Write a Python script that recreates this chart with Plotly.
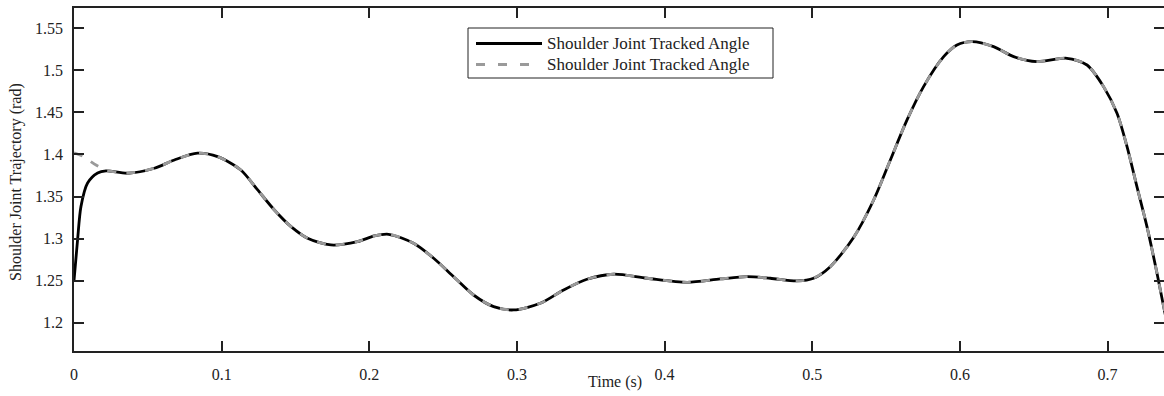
import plotly.graph_objects as go

# Shared trajectory after the initial transient (time in s, angle in rad)
t_common = [0.0363, 0.0544, 0.068, 0.0837, 0.0973, 0.113, 0.1244, 0.1357, 0.147,
            0.1582, 0.174, 0.192, 0.2034, 0.2131, 0.23, 0.2436, 0.2571, 0.2706,
            0.2842, 0.2977, 0.3158, 0.3316, 0.3474, 0.3655, 0.3881, 0.4152,
            0.4377, 0.4558, 0.4716, 0.4897, 0.5009, 0.5122, 0.528, 0.5416,
            0.5529, 0.5642, 0.5754, 0.589, 0.598, 0.6082, 0.6228, 0.6364,
            0.6522, 0.6725, 0.6861, 0.6973, 0.7064, 0.7132, 0.7199, 0.7267,
            0.7335, 0.738, 0.745]
angle_common = [1.3777, 1.3836, 1.3935, 1.4015, 1.3974, 1.3816, 1.3578, 1.334, 1.3142,
                1.3004, 1.2924, 1.2963, 1.3031, 1.3051, 1.2944, 1.2766, 1.2547, 1.2329,
                1.219, 1.2151, 1.223, 1.2389, 1.2516, 1.2576, 1.2528, 1.248,
                1.252, 1.2547, 1.2528, 1.2496, 1.2528, 1.2666, 1.3012, 1.3459,
                1.3935, 1.4411, 1.4807, 1.5163, 1.5302, 1.5342, 1.5282, 1.5163,
                1.5104, 1.5144, 1.5064, 1.4807, 1.449, 1.4093, 1.3617, 1.3142,
                1.2587, 1.219, 1.16]

# Tracked angle start-up (solid black)
t_tracked_start = [0.0, 0.0024, 0.0047, 0.0092, 0.016, 0.0217]
angle_tracked_start = [1.25, 1.298, 1.338, 1.366, 1.378, 1.3805]

# Reference angle start-up (dashed gray)
t_ref_start = [0.0, 0.0058, 0.0149, 0.0217]
angle_ref_start = [1.402, 1.398, 1.3875, 1.3816]

x_ticks = [0, 0.1, 0.2, 0.3, 0.4, 0.5, 0.6, 0.7]
x_tick_text = ["0", "0.1", "0.2", "0.3", "0.4", "0.5", "0.6", "0.7"]
y_ticks = [1.2, 1.25, 1.3, 1.35, 1.4, 1.45, 1.5, 1.55]
y_tick_text = ["1.2", "1.25", "1.3", "1.35", "1.4", "1.45", "1.5", "1.55"]

legend_labels = ["Shoulder Joint Tracked Angle", "Shoulder Joint Tracked Angle"]
x_title = "Time (s)"
y_title = "Shoulder Joint Trajectory (rad)"

FONT = "Liberation Serif"
INK = "#222222"
GRAY = "#9a9a9a"
Y_RANGE = [1.1663, 1.5742]

fig = go.Figure()
fig.add_trace(go.Scatter(
    x=t_tracked_start + t_common, y=angle_tracked_start + angle_common,
    mode="lines", line=dict(color="black", width=2.8, shape="spline", smoothing=0.8),
    showlegend=False, hoverinfo="skip"))
fig.add_trace(go.Scatter(
    x=t_ref_start + t_common, y=angle_ref_start + angle_common,
    mode="lines", line=dict(color=GRAY, width=2.8, dash="9px,10px", shape="spline", smoothing=0.8),
    showlegend=False, hoverinfo="skip"))

W, H = 1164, 396
L, R, T, B = 74, 0, 8, 45
pw, ph = W - L - R, H - T - B


def px(xp):
    return (xp - L) / pw


def py(yp):
    return (H - B - yp) / ph


# Boxed legend
shapes = [dict(type="rect", xref="paper", yref="paper",
               x0=px(468), x1=px(773), y0=py(78), y1=py(28),
               line=dict(color=INK, width=1), fillcolor="white", layer="above")]
row_y = [43.5, 64.5]
row_styles = [dict(color="black", width=3), dict(color=GRAY, width=3, dash="9px,13px")]
annotations = []
for ry, style, label in zip(row_y, row_styles, legend_labels):
    shapes.append(dict(type="line", xref="paper", yref="paper",
                       x0=px(476), x1=px(542), y0=py(ry), y1=py(ry),
                       line=style, layer="above"))
    annotations.append(dict(xref="paper", yref="paper", x=px(545), y=py(ry),
                            text=label, showarrow=False, xanchor="left", yanchor="middle",
                            font=dict(family=FONT, size=17, color=INK)))

annotations.append(dict(xref="paper", yref="paper", x=px(615), y=py(382), text=x_title,
                        showarrow=False, xanchor="center", yanchor="middle",
                        font=dict(family=FONT, size=16, color=INK)))
annotations.append(dict(xref="paper", yref="paper", x=px(16), y=py(182), text=y_title,
                        showarrow=False, textangle=-90, xanchor="center", yanchor="middle",
                        font=dict(family=FONT, size=16, color=INK)))

fig.update_layout(
    width=W, height=H,
    margin=dict(l=L, r=R, t=T, b=B),
    paper_bgcolor="white", plot_bgcolor="white",
    shapes=shapes, annotations=annotations,
    showlegend=False,
    font=dict(family=FONT, size=16, color=INK),
    xaxis=dict(
        range=[0, (W - L) / 1476.5], tickvals=x_ticks, ticktext=x_tick_text,
        ticks="inside", ticklen=10, tickwidth=1.5, tickcolor=INK,
        showline=True, linecolor=INK, linewidth=1.5, mirror="ticks",
        showgrid=False, zeroline=False, ticklabelstandoff=8,
        tickfont=dict(family=FONT, size=16, color=INK)),
    yaxis=dict(
        range=Y_RANGE, tickvals=y_ticks, ticktext=y_tick_text,
        ticks="inside", ticklen=10, tickwidth=1.5, tickcolor=INK,
        showline=True, linecolor=INK, linewidth=1.5, mirror=False,
        showgrid=False, zeroline=False, ticklabelstandoff=6,
        tickfont=dict(family=FONT, size=16, color=INK)),
    # right-hand tick marks without a closing border line
    yaxis2=dict(
        overlaying="y", side="right", range=Y_RANGE, tickvals=y_ticks,
        ticks="inside", ticklen=10, tickwidth=1.5, tickcolor=INK,
        showticklabels=False, showline=False, showgrid=False, zeroline=False),
)
# invisible anchor trace so the right axis is rendered
fig.add_trace(go.Scatter(x=[None], y=[None], yaxis="y2", showlegend=False, hoverinfo="skip"))

fig.write_html("out.html")
